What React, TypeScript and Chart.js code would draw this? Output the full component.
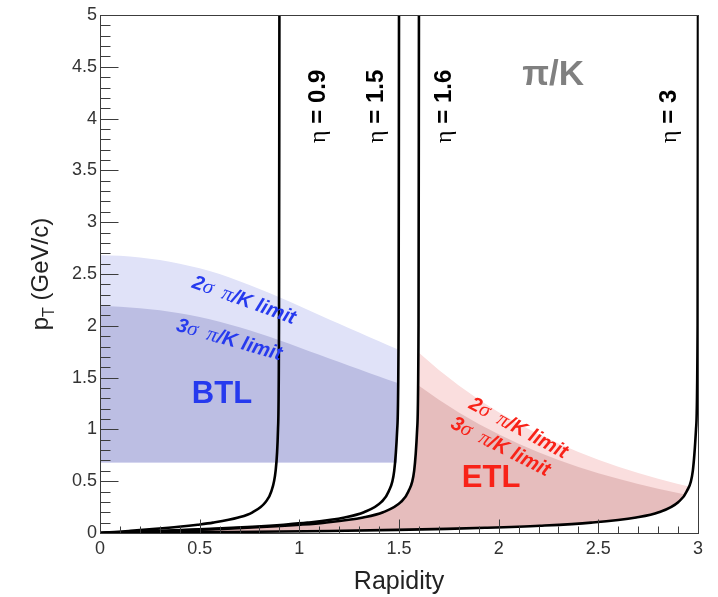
import React, { useEffect, useRef } from 'react';
import { Chart, registerables } from 'chart.js';

Chart.register(...registerables);

// ---- Data -------------------------------------------------------------

// Constant-pseudorapidity curves (pion hypothesis): pT samples and matching rapidity
const etaCurvePt = [0, 0.01, 0.02, 0.04, 0.06, 0.08, 0.1, 0.15, 0.2, 0.3, 0.4, 0.6, 1, 2, 5];
const eta09Rapidity = [0, 0.073, 0.145, 0.279, 0.395, 0.49, 0.567, 0.694, 0.765, 0.831, 0.859, 0.881, 0.893, 0.898, 0.9];
const eta15Rapidity = [0, 0.152, 0.298, 0.557, 0.764, 0.922, 1.041, 1.227, 1.324, 1.412, 1.448, 1.476, 1.491, 1.498, 1.5];
const eta16Rapidity = [0, 0.169, 0.331, 0.615, 0.837, 1.004, 1.128, 1.32, 1.42, 1.51, 1.547, 1.576, 1.591, 1.598, 1.6];
const eta3Pt = [0, 0.002, 0.005, 0.01, 0.02, 0.03, 0.04, 0.05, 0.07, 0.1, 0.15, 0.2, 0.3, 0.4, 0.6, 1, 2, 5];
const eta3Rapidity = [0, 0.143, 0.351, 0.666, 1.15, 1.49, 1.74, 1.932, 2.207, 2.464, 2.69, 2.803, 2.902, 2.943, 2.974, 2.99, 2.998, 3];
const etaLabels = ['0.9', '1.5', '1.6', '3'];

// Barrel timing layer pi/K separation limits
const btlRapidity = [0, 0.1, 0.2, 0.3, 0.4, 0.5, 0.6, 0.7, 0.8, 0.9, 1.0, 1.1, 1.2, 1.3, 1.4, 1.49];
const btl2SigmaPt = [2.68, 2.675, 2.66, 2.635, 2.6, 2.555, 2.5, 2.43, 2.355, 2.275, 2.19, 2.105, 2.02, 1.935, 1.85, 1.775];
const btl3SigmaPt = [2.19, 2.185, 2.17, 2.15, 2.12, 2.085, 2.04, 1.985, 1.925, 1.86, 1.79, 1.72, 1.65, 1.58, 1.51, 1.45];
const btlMinPt = 0.68;

// Endcap timing layer pi/K separation limits
const etl2SigmaRapidity = [1.6, 1.7, 1.8, 1.9, 2.0, 2.1, 2.2, 2.3, 2.4, 2.5, 2.6, 2.7, 2.8, 2.9, 2.95];
const etl2SigmaPt = [1.74, 1.574, 1.424, 1.288, 1.166, 1.055, 0.954, 0.864, 0.781, 0.707, 0.64, 0.579, 0.524, 0.474, 0.451];
const etl3SigmaRapidity = [1.6, 1.7, 1.8, 1.9, 2.0, 2.1, 2.2, 2.3, 2.4, 2.5, 2.6, 2.7, 2.8, 2.9, 2.93];
const etl3SigmaPt = [1.421, 1.285, 1.163, 1.052, 0.952, 0.861, 0.779, 0.705, 0.638, 0.577, 0.523, 0.473, 0.428, 0.387, 0.375];

// Axis tick labels (every 0.5)
const rapidityTickLabels = ['0', '0.5', '1', '1.5', '2', '2.5', '3'];
const ptTickLabels = ['0', '0.5', '1', '1.5', '2', '2.5', '3', '3.5', '4', '4.5', '5'];

// ---- Styling ----------------------------------------------------------

const SANS = '"Liberation Sans", Arial, Helvetica, sans-serif';
const SERIF = '"Liberation Serif", "Times New Roman", serif';
const BLUE = 'rgb(38,58,238)';
const RED = 'rgb(248,34,24)';
const LIGHT_BLUE = 'rgb(224,226,248)';
const DARK_BLUE = 'rgb(188,190,227)';
const LIGHT_PINK = 'rgb(250,222,222)';
const DARK_PINK = 'rgb(230,189,189)';
const AXIS_COLOR = '#3c3c3c';

type Pt = { x: number; y: number };
type Part = { text: string; font: string; dy?: number };

const zip = (xs: number[], ys: number[]): Pt[] => xs.map((x, i) => ({ x, y: ys[i] }));

// Closed ETL region: up the eta=1.6 curve, along the limit, back down the eta=3 curve
function etlRegion(limitX: number[], limitY: number[]): Pt[] {
  const startPt = limitY[0];
  const endPt = limitY[limitY.length - 1];
  const left = zip(eta16Rapidity, etaCurvePt).filter((p) => p.y < startPt);
  const upper = zip(limitX, limitY);
  const lower = zip(eta3Rapidity, eta3Pt).filter((p) => p.y < endPt).reverse();
  return [...left, ...upper, ...lower];
}

const halfIndex = (v: number): number => {
  const k = Math.round(v * 2);
  return Math.abs(v * 2 - k) < 1e-6 ? k : -1;
};

function drawRich(
  ctx: CanvasRenderingContext2D,
  parts: Part[],
  x: number,
  y: number,
  angleDeg: number,
  color: string,
  align: 'center' | 'start',
  size: number
) {
  ctx.save();
  ctx.translate(x, y);
  ctx.rotate((angleDeg * Math.PI) / 180);
  ctx.fillStyle = color;
  ctx.textAlign = 'left';
  ctx.textBaseline = 'alphabetic';
  const widths = parts.map((p) => {
    ctx.font = p.font;
    return ctx.measureText(p.text).width;
  });
  const total = widths.reduce((s, w) => s + w, 0);
  let cx = align === 'center' ? -total / 2 : 0;
  const base = size * 0.36;
  parts.forEach((p, i) => {
    ctx.font = p.font;
    ctx.fillText(p.text, cx, base + (p.dy || 0));
    cx += widths[i];
  });
  ctx.restore();
}

const limitParts = (n: string, size: number): Part[] => [
  { text: n, font: `italic bold ${size}px ${SANS}` },
  { text: 'σ', font: `italic ${size + 1}px ${SERIF}` },
  { text: '\u2002', font: `italic bold ${size}px ${SANS}` },
  { text: 'π', font: `italic ${size + 1}px ${SERIF}` },
  { text: '/K limit', font: `italic bold ${size}px ${SANS}` },
];

// Text annotations placed in data coordinates
const annotations: { parts: Part[]; x: number; y: number; angle: number; color: string; size: number }[] = [
  { parts: limitParts('2', 20), x: 0.725, y: 2.259, angle: 20, color: BLUE, size: 20 },
  { parts: limitParts('3', 20), x: 0.65, y: 1.877, angle: 16, color: BLUE, size: 20 },
  { parts: limitParts('2', 20), x: 2.102, y: 1.023, angle: 28, color: RED, size: 20 },
  { parts: limitParts('3', 20), x: 2.012, y: 0.845, angle: 27, color: RED, size: 20 },
  { parts: [{ text: 'BTL', font: `bold 31px ${SANS}` }], x: 0.612, y: 1.365, angle: 0, color: BLUE, size: 31 },
  { parts: [{ text: 'ETL', font: `bold 31px ${SANS}` }], x: 1.962, y: 0.55, angle: 0, color: RED, size: 31 },
  { parts: [{ text: 'π/K', font: `bold 35px ${SANS}` }], x: 2.273, y: 4.45, angle: 0, color: '#808080', size: 35 },
];
const etaLabelX = [1.085, 1.376, 1.72, 2.845];
const etaLabelStartPt = 3.765;

const overlayPlugin = {
  id: 'overlay',
  afterDatasetsDraw(chart: any) {
    const { ctx, chartArea: a, scales } = chart;
    const xs = scales.x;
    const ys = scales.y;
    ctx.save();
    ctx.strokeStyle = AXIS_COLOR;
    ctx.lineWidth = 1;
    ctx.beginPath();
    const bottom = Math.round(a.bottom) + 0.5;
    const left = Math.round(a.left) + 0.5;
    xs.ticks.forEach((t: any) => {
      const px = Math.round(xs.getPixelForValue(t.value)) + 0.5;
      const len = halfIndex(t.value) >= 0 ? 14 : 7;
      ctx.moveTo(px, bottom);
      ctx.lineTo(px, bottom - len);
    });
    ys.ticks.forEach((t: any) => {
      const py = Math.round(ys.getPixelForValue(t.value)) + 0.5;
      const len = halfIndex(t.value) >= 0 ? 18 : 10;
      ctx.moveTo(left, py);
      ctx.lineTo(left + len, py);
    });
    ctx.stroke();
    ctx.strokeRect(left, Math.round(a.top) + 0.5, Math.round(a.right) - Math.round(a.left), Math.round(a.bottom) - Math.round(a.top));
    ctx.restore();

    // eta labels, reading upward
    etaLabels.forEach((lab, i) => {
      drawRich(
        ctx,
        [
          { text: 'η', font: `24px ${SERIF}` },
          { text: ' = ' + lab, font: `bold 24px ${SANS}` },
        ],
        xs.getPixelForValue(etaLabelX[i]),
        ys.getPixelForValue(etaLabelStartPt),
        -90,
        '#000',
        'start',
        24
      );
    });

    annotations.forEach((an) => {
      drawRich(ctx, an.parts, xs.getPixelForValue(an.x), ys.getPixelForValue(an.y), an.angle, an.color, 'center', an.size);
    });

    // vertical axis title with subscript
    drawRich(
      ctx,
      [
        { text: 'p', font: `24px ${SANS}` },
        { text: 'T', font: `16px ${SANS}`, dy: 6 },
        { text: ' (GeV/c)', font: `24px ${SANS}` },
      ],
      a.left - 61,
      (a.top + a.bottom) / 2,
      -90,
      '#222',
      'center',
      24
    );
  },
};

export default function App() {
  const canvasRef = useRef<HTMLCanvasElement | null>(null);

  useEffect(() => {
    if (!canvasRef.current) return;
    const curve = (label: string, xs: number[], ys: number[]) => ({
      label,
      data: zip(xs, ys),
      borderColor: '#000',
      borderWidth: 2.6,
      pointRadius: 0,
      fill: false,
      cubicInterpolationMode: 'monotone' as const,
    });
    const chart = new Chart(canvasRef.current, {
      type: 'line',
      data: {
        datasets: [
          curve('η = 0.9', eta09Rapidity, etaCurvePt),
          curve('η = 1.5', eta15Rapidity, etaCurvePt),
          curve('η = 1.6', eta16Rapidity, etaCurvePt),
          curve('η = 3', eta3Rapidity, eta3Pt),
          {
            label: 'BTL 3σ',
            data: zip(btlRapidity, btl3SigmaPt),
            borderColor: 'rgba(0,0,0,0)',
            borderWidth: 0,
            pointRadius: 0,
            backgroundColor: DARK_BLUE,
            fill: { value: btlMinPt },
            cubicInterpolationMode: 'monotone',
          },
          {
            label: 'ETL 3σ',
            data: etlRegion(etl3SigmaRapidity, etl3SigmaPt),
            borderColor: 'rgba(0,0,0,0)',
            borderWidth: 0,
            pointRadius: 0,
            backgroundColor: DARK_PINK,
            fill: 'shape',
            tension: 0,
          },
          {
            label: 'BTL 2σ',
            data: zip(btlRapidity, btl2SigmaPt),
            borderColor: 'rgba(0,0,0,0)',
            borderWidth: 0,
            pointRadius: 0,
            backgroundColor: LIGHT_BLUE,
            fill: { value: btlMinPt },
            cubicInterpolationMode: 'monotone',
          },
          {
            label: 'ETL 2σ',
            data: etlRegion(etl2SigmaRapidity, etl2SigmaPt),
            borderColor: 'rgba(0,0,0,0)',
            borderWidth: 0,
            pointRadius: 0,
            backgroundColor: LIGHT_PINK,
            fill: 'shape',
            tension: 0,
          },
        ] as any,
      },
      options: {
        animation: false,
        responsive: false,
        events: [],
        layout: { padding: { left: 8, right: 20, top: 15, bottom: 0 } },
        plugins: { legend: { display: false }, tooltip: { enabled: false } },
        scales: {
          x: {
            type: 'linear',
            min: 0,
            max: 3,
            grid: { display: false, drawTicks: false },
            border: { display: false },
            ticks: {
              stepSize: 0.1,
              autoSkip: false,
              maxRotation: 0,
              padding: 5,
              color: '#333',
              font: { family: SANS, size: 18 },
              callback: (v: any) => {
                const k = halfIndex(Number(v));
                return k >= 0 ? rapidityTickLabels[k] : '';
              },
            },
            title: {
              display: true,
              text: 'Rapidity',
              color: '#222',
              font: { family: SANS, size: 25 },
              padding: { top: 0, bottom: 0 },
            },
            afterFit: (s: any) => {
              s.height = 64;
            },
          },
          y: {
            type: 'linear',
            min: 0,
            max: 5,
            grid: { display: false, drawTicks: false },
            border: { display: false },
            ticks: {
              stepSize: 0.1,
              autoSkip: false,
              padding: 3,
              color: '#333',
              font: { family: SANS, size: 18 },
              callback: (v: any) => {
                const k = halfIndex(Number(v));
                return k >= 0 ? ptTickLabels[k] : '';
              },
            },
            afterFit: (s: any) => {
              s.width = 92;
            },
          },
        },
      },
      plugins: [overlayPlugin],
    });
    return () => chart.destroy();
  }, []);

  return (
    <div style={{ position: 'fixed', left: 0, top: 0, width: 718, height: 597, background: '#fff' }}>
      <canvas ref={canvasRef} width={718} height={597} style={{ display: 'block' }} />
    </div>
  );
}
